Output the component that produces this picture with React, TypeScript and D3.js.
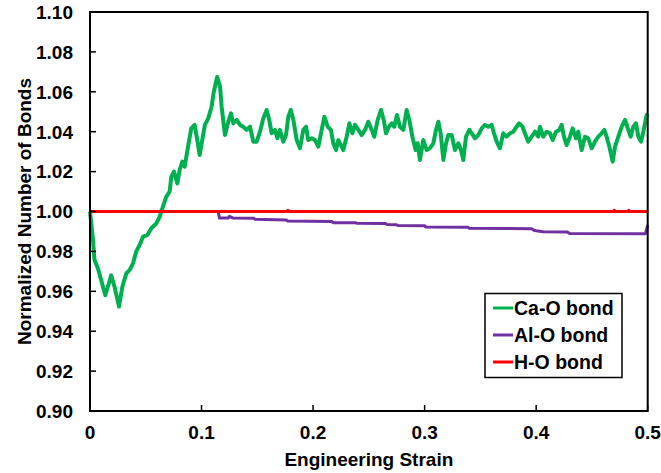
import React from "react";
import * as d3 from "d3";

const xTicks = [0, 0.1, 0.2, 0.3, 0.4, 0.5];
const xTickLabels = ["0", "0.1", "0.2", "0.3", "0.4", "0.5"];
const yTicks = [0.9, 0.92, 0.94, 0.96, 0.98, 1.0, 1.02, 1.04, 1.06, 1.08, 1.1];
const yTickLabels = ["0.90", "0.92", "0.94", "0.96", "0.98", "1.00", "1.02", "1.04", "1.06", "1.08", "1.10"];

const seriesNames = ["Ca-O bond", "Al-O bond", "H-O bond"];
const seriesColors = ["#00B050", "#7030A0", "#FF0000"];

const caO: [number, number][] = [
  [0, 1.0], [0.0027, 0.9857], [0.004, 0.9757], [0.007, 0.9717], [0.01, 0.9657], [0.0137, 0.958],
  [0.016, 0.9623], [0.019, 0.968], [0.022, 0.9623], [0.026, 0.9523], [0.029, 0.9623], [0.0326, 0.969],
  [0.0356, 0.9707], [0.0385, 0.974], [0.0415, 0.98], [0.0445, 0.9832], [0.0475, 0.9874], [0.0514, 0.9882],
  [0.055, 0.9916], [0.0595, 0.994], [0.0625, 0.9974], [0.0654, 1.0024], [0.0684, 1.0074], [0.0714, 1.01],
  [0.0729, 1.0174], [0.0753, 1.02], [0.0783, 1.0141], [0.0804, 1.0208], [0.0828, 1.025], [0.0849, 1.0225],
  [0.0879, 1.0325], [0.0908, 1.0417], [0.0938, 1.0434], [0.0962, 1.0358], [0.0983, 1.0283],
  [0.103, 1.0434], [0.106, 1.0467], [0.109, 1.0525], [0.111, 1.06], [0.114, 1.0675], [0.1166, 1.0626],
  [0.118, 1.0525], [0.121, 1.0383], [0.124, 1.045], [0.1264, 1.0492], [0.1285, 1.0442], [0.1315, 1.0459],
  [0.1345, 1.0434], [0.1374, 1.0425], [0.1404, 1.0409], [0.1434, 1.0425], [0.1464, 1.035], [0.1494, 1.035],
  [0.1524, 1.04], [0.1554, 1.0467], [0.1584, 1.0509], [0.1607, 1.0459], [0.1629, 1.0392], [0.1659, 1.0409],
  [0.168, 1.0367], [0.1703, 1.0409], [0.1733, 1.035], [0.1757, 1.0383], [0.1778, 1.0475], [0.18, 1.0509],
  [0.1823, 1.0459], [0.1853, 1.0358], [0.1883, 1.0317], [0.1912, 1.0409], [0.1937, 1.0425], [0.1957, 1.0358],
  [0.1988, 1.0367],
  [0.2017, 1.0358], [0.2047, 1.0325], [0.2077, 1.0409], [0.2101, 1.0475], [0.2131, 1.0425], [0.216, 1.0409],
  [0.2181, 1.0342], [0.2206, 1.0308], [0.2226, 1.0358], [0.225, 1.0333], [0.2271, 1.0308], [0.2301, 1.0375],
  [0.2325, 1.0442], [0.2352, 1.0392], [0.2376, 1.0434], [0.2405, 1.0409], [0.2436, 1.0383], [0.2466, 1.0409],
  [0.2495, 1.045], [0.2526, 1.0409], [0.2549, 1.0375], [0.2579, 1.0459], [0.2609, 1.0509], [0.2633, 1.0459],
  [0.2654, 1.0392], [0.2681, 1.0425], [0.2705, 1.0442], [0.2728, 1.0425], [0.2752, 1.0484], [0.2779, 1.0425],
  [0.2809, 1.0409], [0.2839, 1.0509], [0.2863, 1.0459], [0.289, 1.0375], [0.292, 1.0308], [0.2938, 1.0342],
  [0.2958, 1.0258], [0.2988, 1.0358], [0.3019, 1.0308],
  [0.3048, 1.0317], [0.3078, 1.0342], [0.3102, 1.0409], [0.3123, 1.045], [0.3144, 1.0392], [0.3168, 1.0258],
  [0.3192, 1.0342], [0.3212, 1.0383], [0.3243, 1.0383], [0.3272, 1.0308], [0.3302, 1.0342], [0.3326, 1.0308],
  [0.3347, 1.0258], [0.3371, 1.0375], [0.3401, 1.0409], [0.3422, 1.0392], [0.3452, 1.0367], [0.3481, 1.0383],
  [0.3512, 1.0417], [0.3541, 1.0434], [0.3571, 1.0425], [0.3601, 1.0434], [0.3622, 1.0392], [0.3646, 1.035],
  [0.3675, 1.0317], [0.3705, 1.0392], [0.3735, 1.0375], [0.3765, 1.0392], [0.3795, 1.04], [0.3825, 1.0425],
  [0.3848, 1.0442], [0.3878, 1.0425], [0.3899, 1.0392], [0.3929, 1.035], [0.396, 1.0375], [0.399, 1.04],
  [0.4019, 1.0375],
  [0.4034, 1.0425], [0.4064, 1.0375], [0.4094, 1.04], [0.4124, 1.0392], [0.4148, 1.0358], [0.4178, 1.04],
  [0.4207, 1.0409], [0.4229, 1.0434], [0.4249, 1.0375], [0.4273, 1.0333], [0.4303, 1.0375], [0.4327, 1.0417],
  [0.4357, 1.0367], [0.4377, 1.04], [0.4408, 1.0308], [0.4438, 1.0375], [0.4467, 1.0367], [0.4498, 1.0317],
  [0.4527, 1.035], [0.4557, 1.0375], [0.4587, 1.0392], [0.4611, 1.0409], [0.4632, 1.0375], [0.4656, 1.0325],
  [0.4686, 1.025], [0.4707, 1.0325], [0.4737, 1.0375], [0.4767, 1.0425], [0.4797, 1.0459], [0.4826, 1.0409],
  [0.4847, 1.0375], [0.4871, 1.0425], [0.4895, 1.0442], [0.4916, 1.0375], [0.494, 1.035], [0.4961, 1.04],
  [0.4991, 1.0484], [0.5, 1.049],
];

const alO: [number, number][] = [
  [0, 1.0], [0.115, 1.0], [0.116, 0.9968], [0.124, 0.9968], [0.125, 0.9976], [0.128, 0.9968],
  [0.147, 0.9966], [0.148, 0.9961], [0.176, 0.9958], [0.177, 0.9952], [0.217, 0.995], [0.218, 0.9944],
  [0.238, 0.9944], [0.239, 0.9941], [0.265, 0.994], [0.266, 0.9935], [0.275, 0.9933], [0.276, 0.993],
  [0.3, 0.9929], [0.301, 0.9922], [0.339, 0.9921], [0.34, 0.9916], [0.396, 0.9914], [0.398, 0.9906],
  [0.4, 0.9904], [0.406, 0.9899], [0.428, 0.9897], [0.43, 0.989], [0.498, 0.9889], [0.5, 0.9932],
];

const hO: [number, number][] = [
  [0, 1.0], [0.177, 1.0], [0.1776, 1.0005], [0.1782, 1.0], [0.4695, 1.0], [0.47, 1.0005],
  [0.4705, 1.0], [0.4825, 1.0], [0.483, 1.0005], [0.4835, 1.0], [0.5, 1.0],
];

const seriesData = [caO, alO, hO];
const seriesWidths = [4, 3, 3.2];

export default function App() {
  const W = 661, H = 473;
  const left = 90, right = 647.7, top = 12, bottom = 411;
  const x = d3.scaleLinear().domain([0, 0.5]).range([left, right]);
  const y = d3.scaleLinear().domain([0.9, 1.1]).range([bottom, top]);
  const line = d3.line<[number, number]>().x((d) => x(d[0])).y((d) => y(d[1]));
  const font = "'Liberation Sans', Arial, sans-serif";
  const fs = 19;
  const legendYs = [308, 335, 362];

  return (
    <svg width={W} height={H} style={{ position: "absolute", left: 0, top: 0, background: "#fff" }} fontFamily={font} fontWeight="bold">
      <rect x={0} y={0} width={W} height={H} fill="#fff" />
      {seriesData.map((d, i) => (
        <path key={i} d={line(d) || ""} fill="none" stroke={seriesColors[i]} strokeWidth={seriesWidths[i]} strokeLinejoin="round" />
      ))}
      <rect x={left} y={top} width={right - left} height={bottom - top} fill="none" stroke="#000" strokeWidth={2} />
      {yTicks.map((t, i) => (
        <g key={"y" + i}>
          <line x1={left} x2={left + 6} y1={y(t)} y2={y(t)} stroke="#000" strokeWidth={1.5} />
          <text x={73} y={y(t)} dy="0.36em" textAnchor="end" fontSize={fs} fill="#000">{yTickLabels[i]}</text>
        </g>
      ))}
      {xTicks.map((t, i) => (
        <g key={"x" + i}>
          <line x1={x(t)} x2={x(t)} y1={bottom} y2={bottom - 6} stroke="#000" strokeWidth={1.5} />
          <text x={x(t)} y={439} textAnchor="middle" fontSize={fs} fill="#000">{xTickLabels[i]}</text>
        </g>
      ))}
      <text x={(left + right) / 2} y={466} textAnchor="middle" fontSize={fs} fill="#000">Engineering Strain</text>
      <text transform={`translate(31,${(top + bottom) / 2}) rotate(-90)`} textAnchor="middle" fontSize={fs} fill="#000">Normalized Number of Bonds</text>
      <rect x={485} y={293.5} width={137} height={84} fill="#fff" stroke="#000" strokeWidth={1.5} />
      {seriesNames.map((n, i) => (
        <g key={"l" + i}>
          <line x1={493} x2={513} y1={legendYs[i]} y2={legendYs[i]} stroke={seriesColors[i]} strokeWidth={3} />
          <text x={514} y={legendYs[i]} dy="0.36em" fontSize={19.5} fill="#000">{n}</text>
        </g>
      ))}
    </svg>
  );
}
